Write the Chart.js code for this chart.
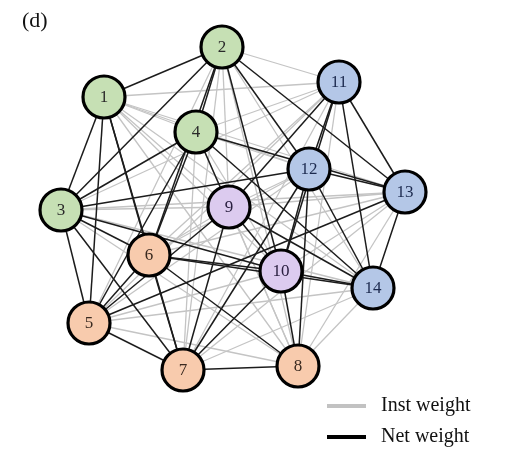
<!DOCTYPE html>
<html>
<head>
<meta charset="utf-8">
<script src="https://cdn.jsdelivr.net/npm/chart.js@4.4.1/dist/chart.umd.min.js"></script>
<style>
  html, body { margin: 0; padding: 0; background: #fff; }
  #wrap { width: 514px; height: 452px; position: relative; }
</style>
</head>
<body>
<div id="wrap"><canvas id="net" width="514" height="452"></canvas></div>
<script>
// Node ids, layout positions (network layout frame) and groups
const nodeIds = [1, 2, 3, 4, 5, 6, 7, 8, 9, 10, 11, 12, 13, 14];
const nodeX = [104, 222, 61, 196, 89, 149, 183, 298, 229, 281, 339, 309, 405, 373];
const nodeY = [97, 47, 210, 132, 323, 255, 370, 366, 207, 271, 82, 169, 192, 288];
const nodeGroup = ['g', 'g', 'g', 'g', 'o', 'o', 'o', 'o', 'p', 'p', 'b', 'b', 'b', 'b'];

// Net-weight links (drawn dark)
const netEdges = [
  [1, 2], [1, 3], [1, 5], [1, 6], [1, 7],
  [2, 3], [2, 4], [2, 6], [2, 10], [2, 12], [2, 13],
  [3, 4], [3, 5], [3, 6], [3, 7], [3, 12], [3, 10],
  [4, 6], [4, 5], [4, 9], [4, 13], [4, 14],
  [5, 6], [5, 7], [5, 9], [5, 13],
  [6, 7], [6, 10], [6, 8], [6, 14],
  [7, 8], [7, 9], [7, 10], [7, 12],
  [8, 10], [8, 12],
  [9, 10], [9, 11], [9, 14],
  [10, 12], [10, 14], [10, 11],
  [11, 12], [11, 13], [11, 14],
  [12, 13], [12, 14], [13, 14]
];

// Inst-weight links (drawn light grey)
const instEdges = [
  [1, 4], [1, 8], [1, 9], [1, 10], [1, 11], [1, 12], [1, 13], [1, 14],
  [2, 5], [2, 7], [2, 8], [2, 9], [2, 11], [2, 14],
  [3, 8], [3, 9], [3, 11], [3, 13], [3, 14],
  [4, 7], [4, 8], [4, 10], [4, 11], [4, 12],
  [5, 8], [5, 10], [5, 11], [5, 12], [5, 14],
  [6, 9], [6, 11], [6, 12], [6, 13],
  [7, 11], [7, 13], [7, 14],
  [8, 9], [8, 11], [8, 13], [8, 14],
  [9, 12], [9, 13],
  [10, 13]
];

const legendLabels = ['Inst weight', 'Net weight'];
const panelLabel = '(d)';

const groupFill = { g: '#c6e0b4', o: '#f8cbad', p: '#dccbef', b: '#b4c7e7' };
const groupText = { g: '#2a2a2a', o: '#3a2a20', p: '#2a2040', b: '#1c2a4e' };
const INST_COLOR = '#c4c4c4';
const NET_COLOR = '#1c1c1c';

function nodePoint(id) {
  const i = nodeIds.indexOf(id);
  return { x: nodeX[i], y: nodeY[i] };
}

function edgeDataset(pair, color, width, order) {
  return {
    data: [nodePoint(pair[0]), nodePoint(pair[1])],
    showLine: true,
    borderColor: color,
    borderWidth: width,
    pointRadius: 0,
    pointHoverRadius: 0,
    fill: false,
    order: order,
    clip: false
  };
}

const datasets = [];
instEdges.forEach(p => datasets.push(edgeDataset(p, INST_COLOR, 1.3, 3)));
netEdges.forEach(p => datasets.push(edgeDataset(p, NET_COLOR, 1.5, 2)));
datasets.push({
  label: 'nodes',
  data: nodeIds.map((id, i) => ({ x: nodeX[i], y: nodeY[i] })),
  showLine: false,
  pointRadius: 21,
  pointHoverRadius: 21,
  pointBackgroundColor: nodeGroup.map(g => groupFill[g]),
  pointBorderColor: '#000',
  pointBorderWidth: 3.2,
  pointHoverBorderWidth: 3.2,
  order: 1,
  clip: false
});

// Node numbers, panel tag and legend
const decorations = {
  id: 'decorations',
  afterDatasetsDraw(chart) {
    const ctx = chart.ctx;
    const meta = chart.getDatasetMeta(chart.data.datasets.length - 1);
    ctx.save();
    ctx.textAlign = 'center';
    ctx.textBaseline = 'middle';
    ctx.font = '17px "Liberation Serif", "Times New Roman", serif';
    meta.data.forEach((pt, i) => {
      ctx.fillStyle = groupText[nodeGroup[i]];
      ctx.fillText(String(nodeIds[i]), pt.x, pt.y + 1);
    });

    ctx.textAlign = 'left';
    ctx.fillStyle = '#111';
    ctx.font = '22px "Liberation Serif", "Times New Roman", serif';
    ctx.fillText(panelLabel, 22, 21);

    const rows = [
      { color: '#c2c2c2', y: 406 },
      { color: '#000', y: 437 }
    ];
    ctx.font = '20px "Liberation Serif", "Times New Roman", serif';
    rows.forEach((r, k) => {
      ctx.strokeStyle = r.color;
      ctx.lineWidth = 4;
      ctx.beginPath();
      ctx.moveTo(327, r.y);
      ctx.lineTo(366, r.y);
      ctx.stroke();
      ctx.fillStyle = '#111';
      ctx.fillText(legendLabels[k], 381, r.y);
    });
    ctx.restore();
  }
};

new Chart(document.getElementById('net'), {
  type: 'scatter',
  data: { datasets },
  options: {
    responsive: false,
    animation: false,
    devicePixelRatio: 1,
    events: [],
    layout: { padding: 0, autoPadding: false },
    plugins: { legend: { display: false }, tooltip: { enabled: false } },
    scales: {
      x: { type: 'linear', min: 0, max: 514, display: false },
      y: { type: 'linear', min: 0, max: 452, reverse: true, display: false }
    }
  },
  plugins: [decorations]
});
</script>
</body>
</html>
